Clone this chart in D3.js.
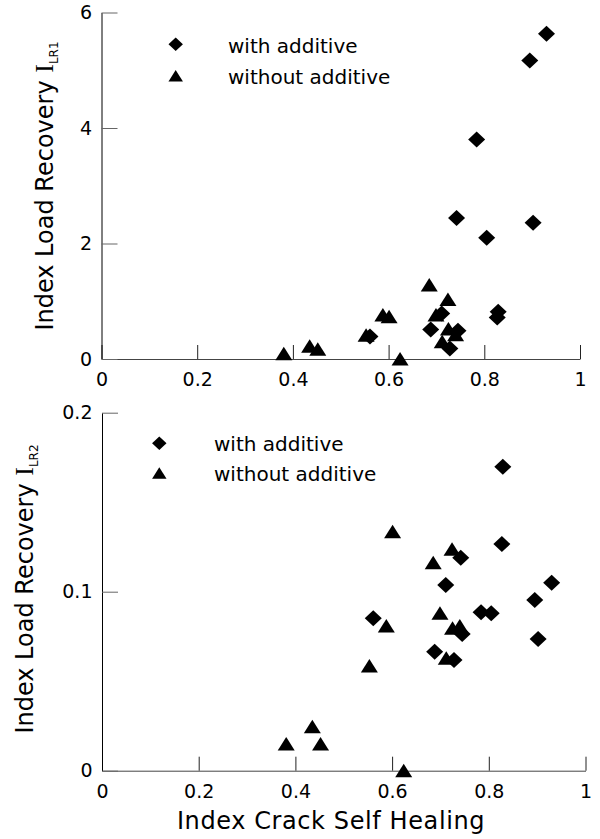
<!DOCTYPE html>
<html><head><meta charset="utf-8">
<script src="https://cdn.jsdelivr.net/npm/d3@7"></script>
<style>
body{margin:0;background:#fff}
svg{display:block}
text{font-family:"DejaVu Sans",sans-serif;fill:#000}
</style>
</head><body><svg id="c" width="600" height="839"></svg>
<script>
// Index crack self healing (x) for each sample
const healWith    = [0.561,0.688,0.711,0.728,0.742,0.745,0.784,0.805,0.827,0.829,0.895,0.902,0.930];
const lr1With     = [0.39, 0.51, 0.79, 0.18, 2.44, 0.49, 3.80, 2.10, 0.72, 0.82, 5.17, 2.36, 5.63];
const lr2With     = [0.0851,0.0665,0.1037,0.0618,0.1190,0.0764,0.0885,0.0879,0.1266,0.1698,0.0954,0.0736,0.1050];
const healWithout = [0.381,0.435,0.452,0.553,0.588,0.601,0.624,0.685,0.699,0.712,0.724,0.725,0.740];
const lr1Without  = [0.09, 0.22, 0.17, 0.41, 0.76, 0.73, 0.00, 1.28, 0.76, 0.30, 1.03, 0.52, 0.42];
const lr2Without  = [0.0149,0.0246,0.0149,0.0585,0.0808,0.1335,0.0000,0.1162,0.0879,0.0628,0.1237,0.0796,0.0808];

const seriesNames = ["with additive","without additive"];
const xTicks = [0,0.2,0.4,0.6,0.8,1];
const xTickLabels = ["0","0.2","0.4","0.6","0.8","1"];
const y1Ticks = [0,2,4,6];
const y1TickLabels = ["0","2","4","6"];
const y2Ticks = [0,0.1,0.2];
const y2TickLabels = ["0","0.1","0.2"];
const xTitle = "Index Crack Self Healing";
const yTitleMain = "Index Load Recovery ";
const ySub1 = "LR1", ySub2 = "LR2";

const svg = d3.select("#c");

function diamond(s){ const w=8.5*s,h=8*s; return `M0,${-h}L${w},0L0,${h}L${-w},0Z`; }
function triangle(s){ const w=8.5*s; return `M0,${-7*s}L${w},${6.5*s}L${-w},${6.5*s}Z`; }

const panels = [
  {xr:[101.5,580], yr:[359,12.5], yd:[0,6], yt:y1Ticks, ytl:y1TickLabels,
   yW:lr1With, yWo:lr1Without, sub:ySub1, titleX:53, titleY:186,
   leg:{x:175.7, y1:44.3, y2:76, tx:228, b1:53, b2:84}},
  {xr:[102,585.5], yr:[770.7,412.7], yd:[0,0.2], yt:y2Ticks, ytl:y2TickLabels,
   yW:lr2With, yWo:lr2Without, sub:ySub2, titleX:33, titleY:589,
   leg:{x:159.3, y1:443.3, y2:473.3, tx:214, b1:451, b2:481}}
];

panels.forEach((p,i)=>{
  const x = d3.scaleLinear().domain([0,1]).range(p.xr);
  const y = d3.scaleLinear().domain(p.yd).range(p.yr);
  const g = svg.append("g");

  // x axis
  const xa = g.append("g").attr("transform",`translate(0,${p.yr[0]})`)
    .call(d3.axisBottom(x).tickValues(xTicks).tickFormat((d,k)=>xTickLabels[k])
      .tickSizeInner(-14).tickSizeOuter(0).tickPadding(14));
  xa.select(".domain").attr("stroke","#444");
  xa.selectAll(".tick line").attr("stroke","#222");
  xa.selectAll("text").attr("font-size",19).attr("fill","#000");

  // y axis
  const ya = g.append("g").attr("transform",`translate(${p.xr[0]},0)`)
    .call(d3.axisLeft(y).tickValues(p.yt).tickFormat((d,k)=>p.ytl[k])
      .tickSizeInner(-16).tickSizeOuter(0).tickPadding(9.5));
  ya.select(".domain").attr("stroke","#000");
  ya.selectAll(".tick line").attr("stroke","#666");
  ya.selectAll("text").attr("font-size",19).attr("fill","#000");

  // y title
  const t = g.append("text")
    .attr("transform",`translate(${p.titleX},${p.titleY}) rotate(-90)`)
    .attr("text-anchor","middle").attr("font-size",24);
  t.append("tspan").text(yTitleMain);
  t.append("tspan").attr("font-family","'Liberation Serif',serif").attr("font-size",26).text("I");
  t.append("tspan").attr("font-size",12).attr("dy",5).text(p.sub);

  // points: without additive (triangles) then with additive (diamonds)
  g.append("g").selectAll("path").data(healWithout.map((h,k)=>[h,p.yWo[k]]))
    .join("path").attr("d",triangle(1))
    .attr("transform",d=>`translate(${x(d[0])},${y(d[1])})`).attr("fill","#000");
  g.append("g").selectAll("path").data(healWith.map((h,k)=>[h,p.yW[k]]))
    .join("path").attr("d",diamond(1))
    .attr("transform",d=>`translate(${x(d[0])},${y(d[1])})`).attr("fill","#000");

  // legend
  const L = p.leg;
  g.append("path").attr("d",diamond(0.85)).attr("transform",`translate(${L.x},${L.y1})`);
  g.append("path").attr("d",triangle(0.85)).attr("transform",`translate(${L.x},${L.y2})`);
  g.append("text").attr("x",L.tx).attr("y",L.b1).attr("font-size",20).text(seriesNames[0]);
  g.append("text").attr("x",L.tx).attr("y",L.b2).attr("font-size",20).text(seriesNames[1]);

  if(i===1){
    g.append("text").attr("x",331).attr("y",829).attr("text-anchor","middle")
      .attr("font-size",24).attr("letter-spacing",0.6).text(xTitle);
  }
});
</script>
</body></html>
